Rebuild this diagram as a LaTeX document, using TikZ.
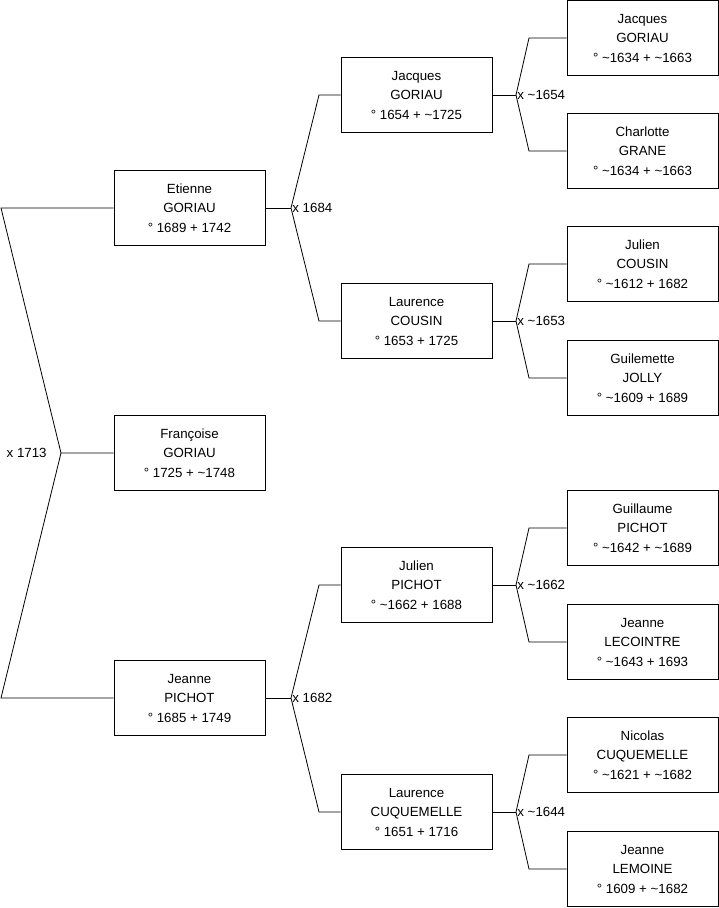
\documentclass[tikz,border=0pt]{standalone}
\usepackage{fontspec}
\setmainfont{Liberation Sans}
\usetikzlibrary{positioning}

\begin{document}
\begin{tikzpicture}[
        x=1pt, y=-1pt,
        line width=0.8pt,
        every node/.style={font=\fontsize{13.3}{19.5}\selectfont},
        person/.style={draw, align=center, minimum width=151pt, minimum height=75pt, inner sep=0pt},
        link/.style={draw, line join=miter}
    ]

        \useasboundingbox (0,0) rectangle (719,908);

        % Generation 1
        \node[person] (etienne)  at (189.5,208) {Etienne\\GORIAU\\° 1689 + 1742};
        \node[person] (francoise) at (189.5,453) {Françoise\\GORIAU\\° 1725 + \textasciitilde1748};
        \node[person] (jeanneP)  at (189.5,698) {Jeanne\\PICHOT\\° 1685 + 1749};

        % Generation 2
        \node[person] (jacquesG) at (416.5,95)  {Jacques\\GORIAU\\° 1654 + \textasciitilde1725};
        \node[person] (laurenceC) at (416.5,321) {Laurence\\COUSIN\\° 1653 + 1725};
        \node[person] (julienP)  at (416.5,585) {Julien\\PICHOT\\° \textasciitilde1662 + 1688};
        \node[person] (laurenceQ) at (416.5,812) {Laurence\\CUQUEMELLE\\° 1651 + 1716};

        % Generation 3
        \node[person] (jacquesG2) at (642.5,38)  {Jacques\\GORIAU\\° \textasciitilde1634 + \textasciitilde1663};
        \node[person] (charlotte) at (642.5,151) {Charlotte\\GRANE\\° \textasciitilde1634 + \textasciitilde1663};
        \node[person] (julienC)   at (642.5,264) {Julien\\COUSIN\\° \textasciitilde1612 + 1682};
        \node[person] (guilemette) at (642.5,378) {Guilemette\\JOLLY\\° \textasciitilde1609 + 1689};
        \node[person] (guillaume) at (642.5,528) {Guillaume\\PICHOT\\° \textasciitilde1642 + \textasciitilde1689};
        \node[person] (jeanneL)   at (642.5,642) {Jeanne\\LECOINTRE\\° \textasciitilde1643 + 1693};
        \node[person] (nicolas)   at (642.5,755) {Nicolas\\CUQUEMELLE\\° \textasciitilde1621 + \textasciitilde1682};
        \node[person] (jeanneM)   at (642.5,869) {Jeanne\\LEMOINE\\° 1609 + \textasciitilde1682};

        % Mariage des parents
        \coordinate (m0) at (61,453);
        \coordinate (m0a) at (1,208);
        \coordinate (m0b) at (1,698);
        \draw[link] (etienne.west) -- (m0a) -- (m0) -- (francoise.west);
        \draw[link] (m0) -- (m0b) -- (jeanneP.west);
        \node[left=14pt of m0, inner sep=0pt] {x 1713};

        % Mariages
        \foreach \child/\dad/\mom/\vx/\tx/\when in {
                etienne/jacquesG/laurenceC/291/319/1684,
                jeanneP/julienP/laurenceQ/291/319/1682,
                jacquesG/jacquesG2/charlotte/516/529/\textasciitilde1654,
                laurenceC/julienC/guilemette/516/529/\textasciitilde1653,
                julienP/guillaume/jeanneL/516/529/\textasciitilde1662,
                laurenceQ/nicolas/jeanneM/516/529/\textasciitilde1644} {
            \coordinate (v) at (\child.east -| \vx,0);
            \draw[link] (\child.east) -- (v);
            \draw[link] (\dad.west) -- (\dad.west -| \tx,0) -- (v) -- (\mom.west -| \tx,0) -- (\mom.west);
            \node[right, inner sep=1pt] at (v) {x \when};
        }

    \end{tikzpicture}
\end{document}
